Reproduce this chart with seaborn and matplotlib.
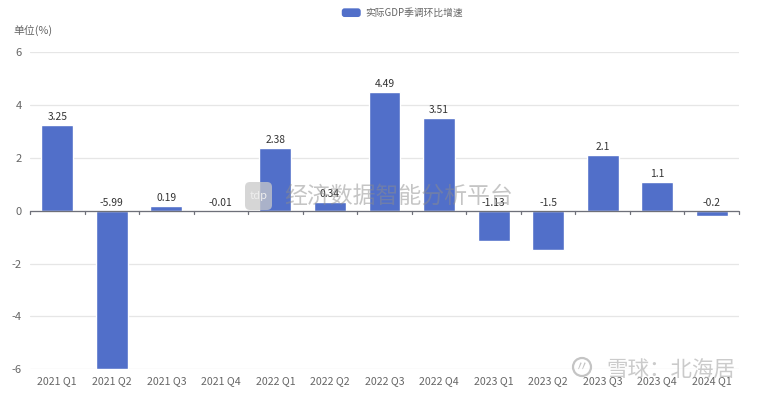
import matplotlib
matplotlib.use("Agg")
import matplotlib.pyplot as plt
import seaborn as sns
import pandas as pd
from matplotlib.patches import FancyBboxPatch, Circle, Patch
from matplotlib.legend_handler import HandlerPatch

quarters = ["2021 Q1", "2021 Q2", "2021 Q3", "2021 Q4", "2022 Q1", "2022 Q2", "2022 Q3",
            "2022 Q4", "2023 Q1", "2023 Q2", "2023 Q3", "2023 Q4", "2024 Q1"]
growth = [3.25, -5.99, 0.19, -0.01, 2.38, 0.34, 4.49, 3.51, -1.13, -1.5, 2.1, 1.1, -0.2]
labels = ["3.25", "-5.99", "0.19", "-0.01", "2.38", "0.34", "4.49", "3.51", "-1.13", "-1.5", "2.1", "1.1", "-0.2"]
y_ticks = [-6, -4, -2, 0, 2, 4, 6]
series_name = "实际GDP季调环比增速"
unit = "单位(%)"

sns.set_theme(style="white")
plt.rcParams['font.family'] = ['Noto Sans CJK SC', 'DejaVu Sans']

W, H = 760, 395
BAR = "#516fc9"
TXT = "#666666"
fig = plt.figure(figsize=(W / 100, H / 100), dpi=100, facecolor="white")
ax = fig.add_axes([30 / W, 1 - 369.3 / H, 709 / W, 317 / H])

df = pd.DataFrame({"q": quarters, "v": growth})
sns.barplot(data=df, x="q", y="v", color=BAR, saturation=1, width=0.585, ax=ax, zorder=3)

ax.set_xlim(-0.5, len(quarters) - 0.5)
ax.set_ylim(-6, 6)
ax.set_xlabel("")
ax.set_ylabel("")
ax.set_yticks(y_ticks)
ax.set_yticklabels([str(t) for t in y_ticks], fontsize=8, color=TXT)
ax.tick_params(axis="y", length=0, pad=6)
ax.tick_params(axis="x", length=0, pad=5, labelsize=7.6, labelcolor=TXT)
ax.grid(axis="y", color="#e6e6e6", lw=0.9, zorder=0)
ax.set_axisbelow(True)
for s in ax.spines.values():
    s.set_visible(False)

# zero axis with ticks at category boundaries
ax.axhline(0, color="#6e7079", lw=0.9, zorder=4)
for i in range(len(quarters) + 1):
    ax.plot([i - 0.5, i - 0.5], [0, -0.11], color="#6e7079", lw=0.9, zorder=4, clip_on=False)

for i, (v, s) in enumerate(zip(growth, labels)):
    ax.annotate(s, (i, max(v, 0)), xytext=(0, 2.2), textcoords="offset points",
                ha="center", va="bottom", fontsize=7.4, color="#333333", zorder=6)

fig.text(13 / W, 1 - 30 / H, unit, fontsize=7.8, color=TXT, ha="left", va="center")


class RoundHandler(HandlerPatch):
    def create_artists(self, legend, orig, xd, yd, width, height, fontsize, trans):
        p = FancyBboxPatch((-xd, -yd), width, height,
                           boxstyle="round,pad=0,rounding_size=2",
                           fc=orig.get_facecolor(), ec="none", transform=trans)
        return [p]


h = Patch(facecolor=BAR, label=series_name)
fig.legend(handles=[h], handler_map={Patch: RoundHandler()}, loc="center",
           bbox_to_anchor=(402.5 / W, 1 - 13 / H), frameon=False, fontsize=7,
           labelcolor=TXT, handlelength=1.95, handleheight=1.0, handletextpad=0.5,
           borderpad=0, borderaxespad=0)

# watermarks
logo = FancyBboxPatch((245, H - 210), 27, 28, boxstyle="round,pad=0,rounding_size=5",
                      fc="#c9c9c9", ec="none", alpha=0.75, transform=None, zorder=7)
fig.add_artist(logo)
fig.text(258.5 / W, 1 - 196 / H, "tdp", fontsize=8, color="#eeeeee", ha="center", va="center", zorder=8)
fig.text(399 / W, 1 - 196 / H, "经济数据智能分析平台", fontsize=16.5, fontweight="medium",
         color="#8c8c8c", alpha=0.5, ha="center", va="center", zorder=8)

c = Circle((582, H - 367), 9, fc="none", ec="#c4c4c4", lw=1.6, transform=None, zorder=7)
fig.add_artist(c)
fig.text(582 / W, 1 - 367 / H, "〃", fontsize=10, color="#c4c4c4", ha="center", va="center", zorder=8)
fig.text(671 / W, 1 - 370 / H, "雪球：北海居", fontsize=15.5, color="#b5b5b5", alpha=0.7,
         ha="center", va="center", zorder=8)

fig.savefig("out.png", dpi=100)
